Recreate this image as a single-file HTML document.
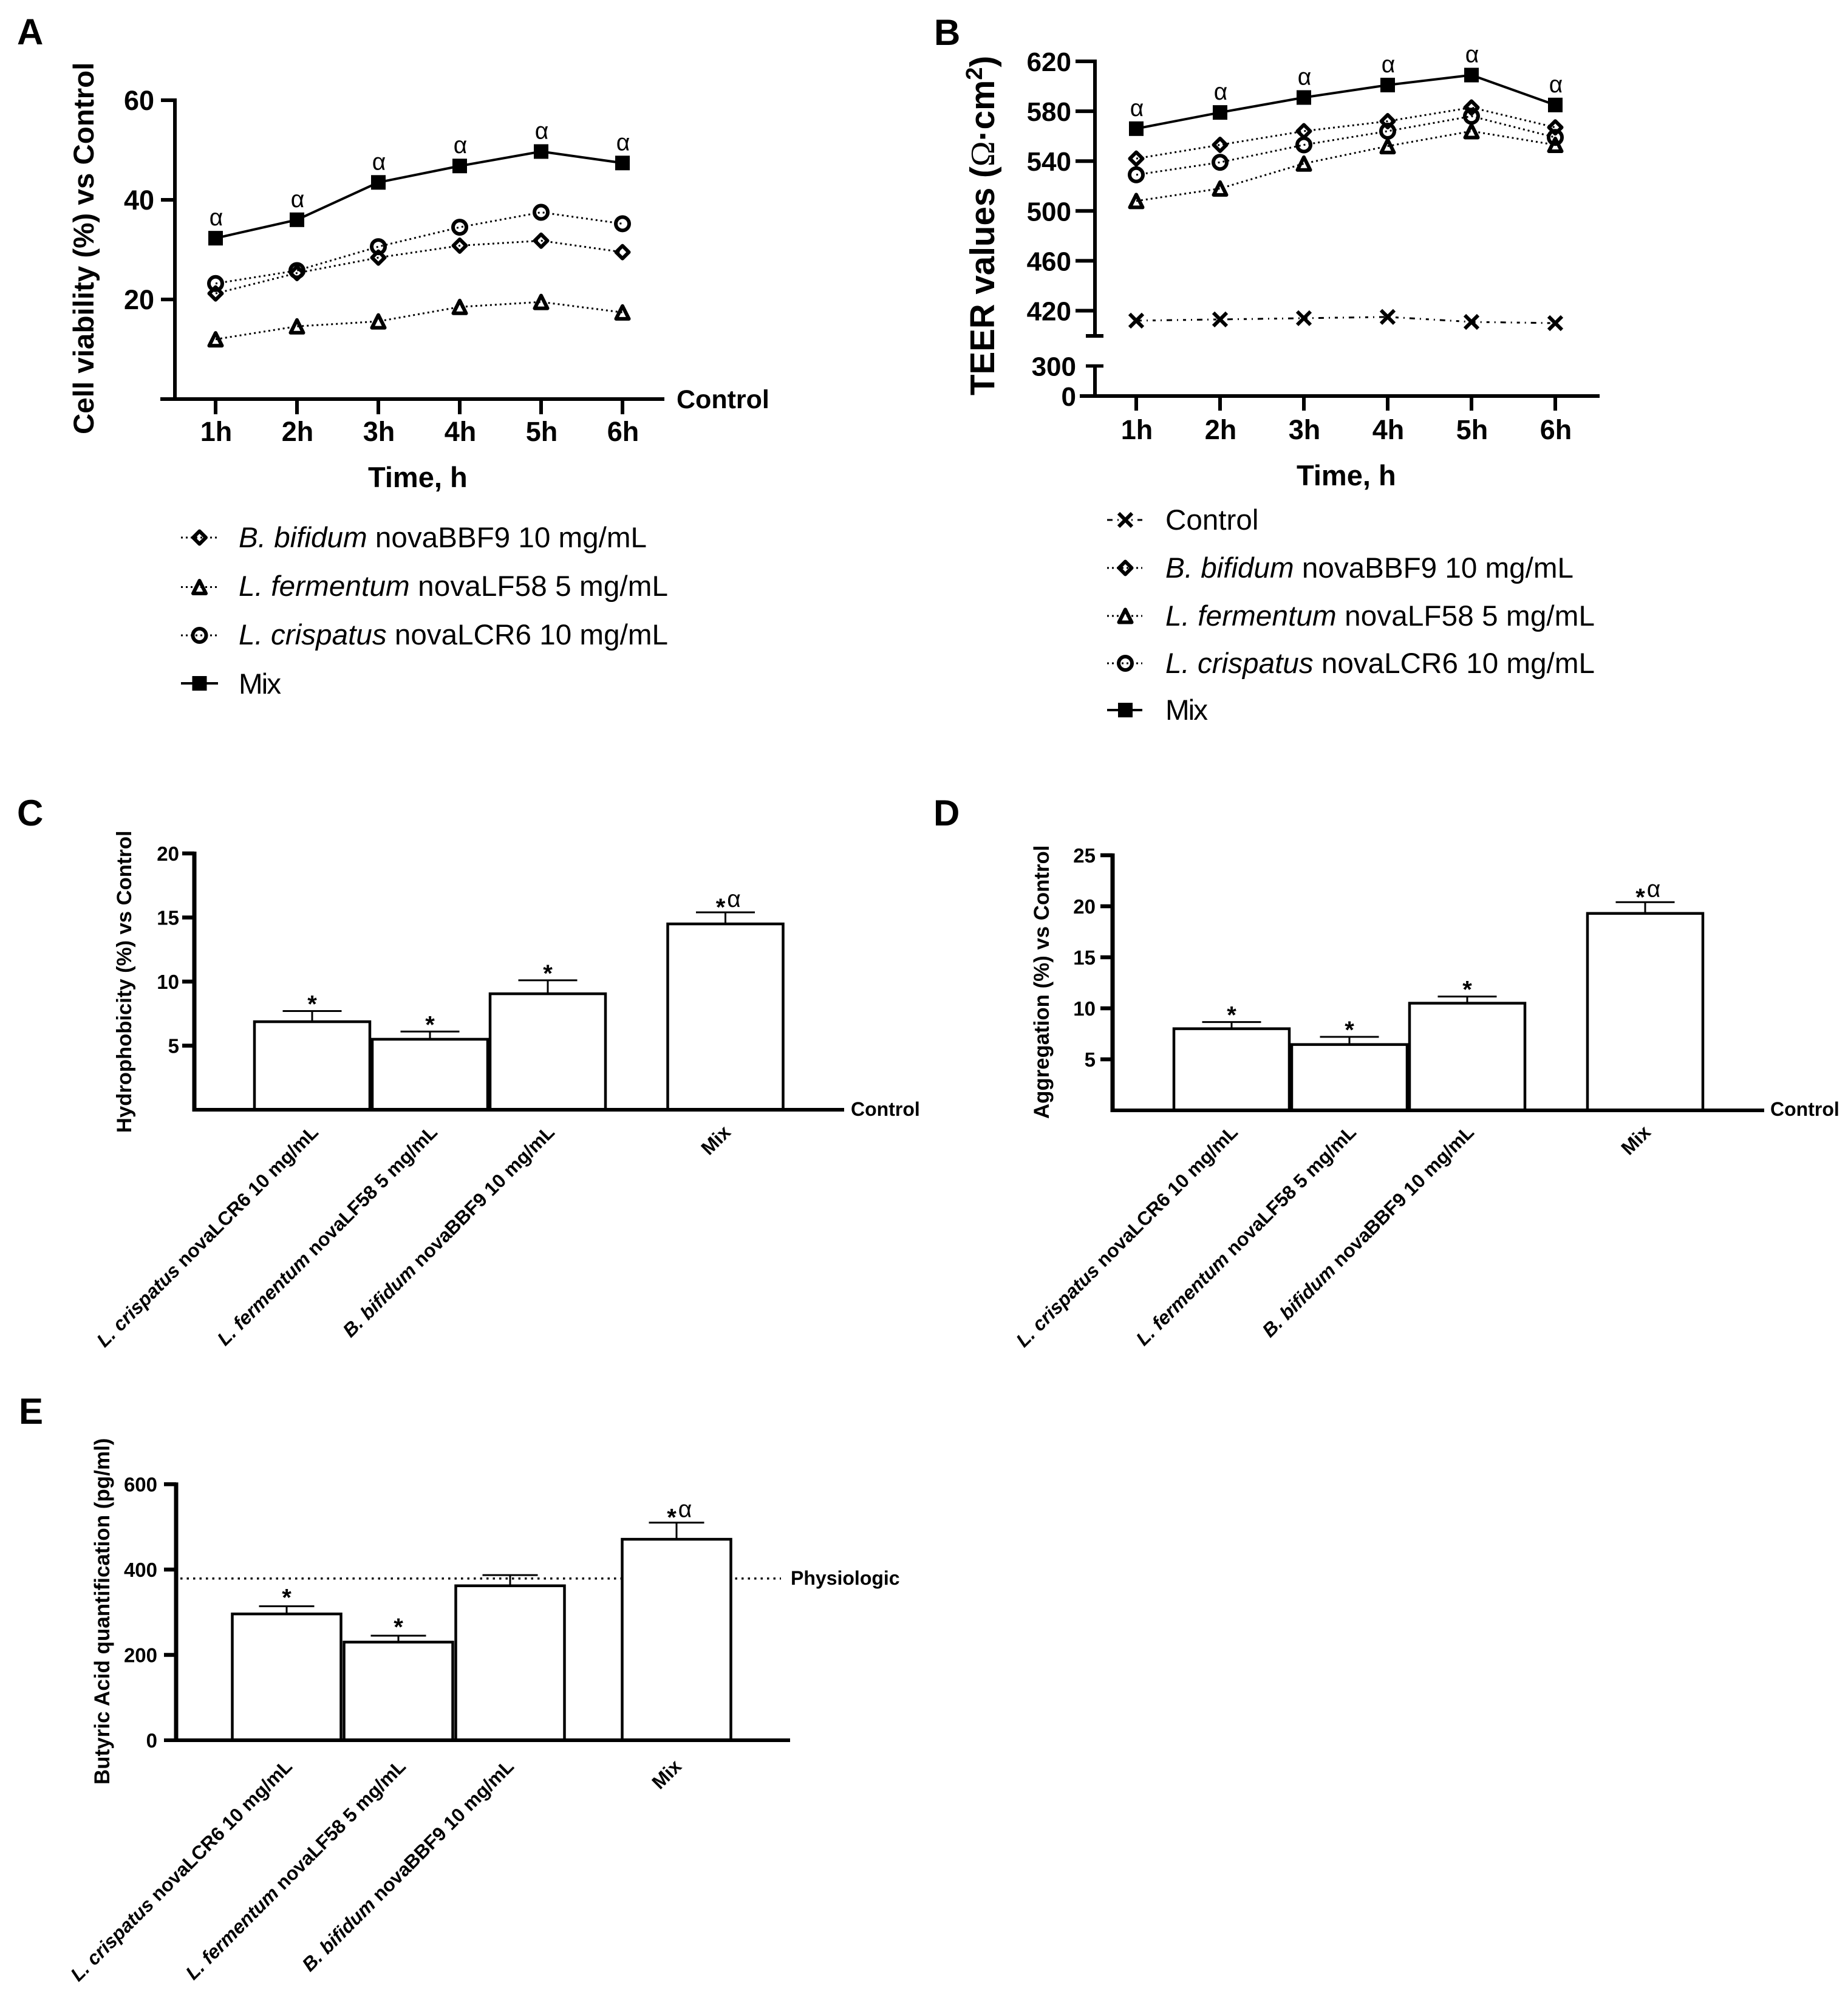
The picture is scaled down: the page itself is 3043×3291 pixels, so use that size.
<!DOCTYPE html>
<html lang="en">
<head>
<meta charset="utf-8">
<title>Probiotic strains: viability, TEER, hydrophobicity, aggregation, butyric acid</title>
<style>
  html,body{margin:0;padding:0;background:#fff;}
  svg{display:block;}
  text{font-family:"Liberation Sans",sans-serif;fill:#000;}
  .b{font-weight:700;}
  .letter{font-weight:700;font-size:60px;}
  .leg{font-size:47.6px;}
  .t47{font-weight:700;font-size:47px;}
  .i{font-style:italic;}
</style>
</head>
<body>
<svg id="fig" xmlns="http://www.w3.org/2000/svg" width="3043" height="3291" viewBox="0 0 3043 3291">
  <rect x="0" y="0" width="3043" height="3291" fill="#fff"/>

  <text class="letter" x="28" y="73">A</text>
  <text class="letter" x="1538" y="74">B</text>
  <text class="letter" x="28" y="1359">C</text>
  <text class="letter" x="1537" y="1359">D</text>
  <text class="letter" x="31" y="2344">E</text>

  <text class="b" font-size="47.5" transform="translate(154,715) rotate(-90)">Cell viability (%) vs Control</text>
  <text class="t47" x="606" y="802">Time, h</text>
  <text class="b" font-size="43" x="1114" y="672">Control</text>

  <text class="leg" x="393" y="901" textLength="672"><tspan class="i">B. bifidum</tspan> novaBBF9 10 mg/mL</text>
  <text class="leg" x="393" y="981" textLength="707"><tspan class="i">L. fermentum</tspan> novaLF58 5 mg/mL</text>
  <text class="leg" x="393" y="1061" textLength="707"><tspan class="i">L. crispatus</tspan> novaLCR6 10 mg/mL</text>
  <text class="leg" x="393" y="1142" textLength="70">Mix</text>

  <text class="b" font-size="56.5" transform="translate(1637,651) rotate(-90)">TEER values (<tspan font-family="Liberation Serif,serif" font-weight="400">Ω</tspan>·cm<tspan font-size="38" dy="-20">2</tspan><tspan dy="20">)</tspan></text>
  <text class="t47" x="2135" y="799">Time, h</text>

  <text class="leg" x="1919" y="872">Control</text>
  <text class="leg" x="1919" y="951" textLength="672"><tspan class="i">B. bifidum</tspan> novaBBF9 10 mg/mL</text>
  <text class="leg" x="1919" y="1030" textLength="707"><tspan class="i">L. fermentum</tspan> novaLF58 5 mg/mL</text>
  <text class="leg" x="1919" y="1108" textLength="707"><tspan class="i">L. crispatus</tspan> novaLCR6 10 mg/mL</text>
  <text class="leg" x="1919" y="1185" textLength="70">Mix</text>

  <text class="b" font-size="34.6" transform="translate(216,1865) rotate(-90)">Hydrophobicity (%) vs Control</text>
  <text class="b" font-size="32" x="1401" y="1837">Control</text>

  <text class="b" font-size="34.8" transform="translate(1727,1842) rotate(-90)">Aggregation (%) vs Control</text>
  <text class="b" font-size="32" x="2915" y="1837">Control</text>

  <text class="b" font-size="35" transform="translate(180,2938) rotate(-90)">Butyric Acid quantification (pg/ml)</text>
  <text class="b" font-size="32" x="1302" y="2609">Physiologic</text>
</svg>

<script>
/* ---------- data ---------- */
const hours = ['1h','2h','3h','4h','5h','6h'];

const aTicks = [20,40,60];
const aBbf9  = [21.2,25.3,28.4,30.8,31.8,29.5];
const aLf58  = [12.0,14.6,15.6,18.5,19.5,17.4];
const aLcr6  = [23.2,25.8,30.6,34.5,37.5,35.2];
const aMix   = [32.3,36.0,43.5,46.8,49.7,47.4];

const bUpperTicks = [420,460,500,540,580,620];
const bLowerTicks = [0,300];
const bControl = [412,413,414,415,411,410];
const bBbf9 = [542,553,564,572,583,567];
const bLf58 = [508,518,538,552,564,553];
const bLcr6 = [529,539,553,564,576,559];
const bMix  = [566,579,591,601,609,585];

const barSpecies = ['L. crispatus','L. fermentum','B. bifidum',''];
const barStrains = [' novaLCR6 10 mg/mL',' novaLF58 5 mg/mL',' novaBBF9 10 mg/mL','Mix'];

const cTicks  = [5,10,15,20];
const cValues = [6.87,5.5,9.05,14.5];
const cErrTop = [7.7,6.1,10.1,15.4];
const cMarks  = ['*','*','*','*α'];

const dTicks  = [5,10,15,20,25];
const dValues = [8.0,6.45,10.5,19.3];
const dErrTop = [8.65,7.2,11.15,20.4];
const dMarks  = ['*','*','*','*α'];

const eTicks  = [0,200,400,600];
const eValues = [296,230,362,471];
const eErrTop = [314,245,387,510];
const eMarks  = ['*','*','','*α'];
const ePhysiologic = [379];

/* ---------- helpers ---------- */
const NS = 'http://www.w3.org/2000/svg';
const fig = document.getElementById('fig');

function mk(tag, attrs, name, parent) {
  const el = document.createElementNS(NS, tag);
  for (const k in attrs) el.setAttribute(k, attrs[k]);
  
  
  (parent || fig).appendChild(el);
  return el;
}
function line(x1, y1, x2, y2, w, name, dash) {
  const a = {x1: x1, y1: y1, x2: x2, y2: y2, stroke: '#000', 'stroke-width': w};
  if (dash) a['stroke-dasharray'] = dash;
  return mk('line', a, name);
}
function label(x, y, str, size, anchor, name, extra) {
  const a = Object.assign({x: x, y: y, 'font-size': size, 'text-anchor': anchor, 'font-weight': 700}, extra || {});
  const t = mk('text', a, name);
  t.textContent = str;
  return t;
}
function linear(d0, d1, r0, r1) {
  return function (v) { return r0 + (v - d0) * (r1 - r0) / (d1 - d0); };
}
function marker(type, x, y, name) {
  const g = mk('g', {transform: 'translate(' + x + ',' + y + ')', fill: 'none', stroke: '#000', 'stroke-width': 6, 'stroke-linejoin': 'round'}, name);
  const inner = name + '-shape';
  if (type === 'square') mk('rect', {x: -12, y: -12, width: 24, height: 24, fill: '#000', stroke: 'none'}, inner, g);
  if (type === 'circle') mk('circle', {r: 11}, inner, g);
  if (type === 'diamond') mk('path', {d: 'M0-10.5L10.5 0L0 10.5L-10.5 0Z'}, inner, g);
  if (type === 'triangle') mk('path', {d: 'M0-10.5L10.5 10.5L-10.5 10.5Z'}, inner, g);
  if (type === 'cross') mk('path', {d: 'M-11-11L11 11M11-11L-11 11'}, inner, g);
}
const DOT = '3 5';
const DASHDOT = '9 8 2 8 5 8 2 8';

function series(name, type, values, xf, yf, dash, w) {
  const pts = values.map(function (v, i) { return xf(i) + ',' + yf(v); }).join(' ');
  const a = {points: pts, fill: 'none', stroke: '#000', 'stroke-width': w};
  if (dash) a['stroke-dasharray'] = dash;
  mk('polyline', a, name + '-line');
  values.forEach(function (v, i) { marker(type, xf(i), yf(v), name + '-point-' + hours[i]); });
}
function legendKey(name, type, x0, x1, xc, y, dash, w) {
  line(x0, y, x1, y, w, name + '-line', dash);
  marker(type, xc, y, name + '-marker');
}
function alphas(prefix, values, xf, yf) {
  values.forEach(function (v, i) {
    label(xf(i) + 1, yf(v) - 21, 'α', 39, 'middle', prefix + '-alpha-' + hours[i], {'font-family': 'Liberation Serif, serif', 'font-weight': 400});
  });
}
function xAxisLabels(prefix, xf, tickTop, tickBottom, baseline, size) {
  hours.forEach(function (h, i) {
    line(xf(i), tickTop, xf(i), tickBottom, 6, prefix + '-x-tick-' + h);
    label(xf(i) + 1, baseline, h, size, 'middle', prefix + '-x-label-' + h);
  });
}

/* ---------- panel A ---------- */
(function () {
  const y = linear(0, 60, 657, 165);
  const x = linear(0, 5, 355, 1025);
  line(288, 162, 288, 660, 6, 'a-y-axis');
  line(264, 657, 1094, 657, 6, 'a-x-axis');
  aTicks.forEach(function (t) {
    line(265, y(t), 288, y(t), 6, 'a-y-tick-' + t);
    label(254, y(t) + 16, String(t), 45, 'end', 'a-y-label-' + t);
  });
  xAxisLabels('a', x, 657, 682, 726, 45);
  series('a-bbf9', 'diamond', aBbf9, x, y, DOT, 3);
  series('a-lf58', 'triangle', aLf58, x, y, DOT, 3);
  series('a-lcr6', 'circle', aLcr6, x, y, DOT, 3);
  series('a-mix', 'square', aMix, x, y, null, 4);
  alphas('a', aMix, x, y);
  legendKey('a-legend-bbf9', 'diamond', 298, 359, 328.5, 885, DOT, 3);
  legendKey('a-legend-lf58', 'triangle', 298, 359, 328.5, 966.5, DOT, 3);
  legendKey('a-legend-lcr6', 'circle', 298, 359, 328.5, 1046, DOT, 3);
  legendKey('a-legend-mix', 'square', 298, 359, 328.5, 1125, null, 4);
})();

/* ---------- panel B ---------- */
(function () {
  const y = linear(420, 620, 511.5, 101);
  const yLow = linear(0, 300, 652, 602.5);
  const x = linear(0, 5, 1871, 2561);
  line(1803, 98, 1803, 556, 6, 'b-y-axis-upper');
  line(1803, 600, 1803, 655, 6, 'b-y-axis-lower');
  line(1778, 652, 2634, 652, 6, 'b-x-axis');
  line(1788, 553, 1817, 553, 6, 'b-axis-break-top');
  bUpperTicks.forEach(function (t) {
    line(1771, y(t), 1803, y(t), 6, 'b-y-tick-' + t);
    label(1764, y(t) + 16, String(t), 44, 'end', 'b-y-label-' + t);
  });
  bLowerTicks.forEach(function (t) {
    if (t > 0) line(1788, yLow(t), 1817, yLow(t), 5.5, 'b-y-tick-' + t);
    label(1772, yLow(t) + 16, String(t), 44, 'end', 'b-y-label-' + t);
  });
  xAxisLabels('b', x, 652, 676, 723, 45);
  series('b-control', 'cross', bControl, x, y, DASHDOT, 3);
  series('b-bbf9', 'diamond', bBbf9, x, y, DOT, 3);
  series('b-lf58', 'triangle', bLf58, x, y, DOT, 3);
  series('b-lcr6', 'circle', bLcr6, x, y, DOT, 3);
  series('b-mix', 'square', bMix, x, y, null, 4);
  alphas('b', bMix, x, y);
  legendKey('b-legend-control', 'cross', 1823, 1881, 1853, 856, DASHDOT, 3);
  legendKey('b-legend-bbf9', 'diamond', 1823, 1881, 1853, 935, DOT, 3);
  legendKey('b-legend-lf58', 'triangle', 1823, 1881, 1853, 1014, DOT, 3);
  legendKey('b-legend-lcr6', 'circle', 1823, 1881, 1853, 1092, DOT, 3);
  legendKey('b-legend-mix', 'square', 1823, 1881, 1853, 1169, null, 4);
})();

/* ---------- bar panels ---------- */
function barPanel(p, ticks, values, errTop, marks) {
  const y = linear(0, p.yMax, p.y0, p.yTop);
  const bx = function (i) { return i < 3 ? p.first + p.step * i : p.fourth; };

  if (p.ref !== undefined) {
    line(p.refX0, y(p.ref), p.refX1, y(p.ref), 3.5, p.id + '-physiologic-line', '3.5 7');
  }
  values.forEach(function (v, i) {
    const n = p.id + '-bar-' + (i + 1);
    mk('rect', {x: bx(i) - p.bw / 2, y: y(v), width: p.bw, height: y(0) - y(v), fill: '#fff', stroke: '#000', 'stroke-width': 4.5}, n);
    line(bx(i), y(v), bx(i), y(errTop[i]), 3, n + '-error-stem');
    line(bx(i) - p.cap / 2, y(errTop[i]), bx(i) + p.cap / 2, y(errTop[i]), 3, n + '-error-cap');
    const m = marks[i];
    if (m) {
      const star = m.charAt(0);
      const hasAlpha = m.length > 1;
      label(bx(i) - (hasAlpha ? 8 : 0), y(errTop[i]) + (hasAlpha ? 5 : p.starDy), star, 40, 'middle', n + '-star');
      if (hasAlpha) {
        label(bx(i) + 14, y(errTop[i]) - 9, 'α', 39, 'middle', n + '-alpha', {'font-family': 'Liberation Serif, serif', 'font-weight': 400});
      }
    }
    const g = mk('g', {transform: 'translate(' + p.labelX(i) + ',' + p.labelY + ') rotate(-45)'}, n + '-category-group');
    const t = mk('text', {'text-anchor': 'end', 'font-size': 31.7, 'font-weight': 700}, n + '-category-label', g);
    const sp = mk('tspan', {'font-style': 'italic'}, n + '-category-species', t);
    sp.textContent = barSpecies[i];
    const st = mk('tspan', {}, n + '-category-strain', t);
    st.textContent = barStrains[i];
  });
  line(p.axisX, p.yTop - 3, p.axisX, y(0) + 3, 7, p.id + '-y-axis');
  line(p.xStart, y(0), p.xEnd, y(0), 6, p.id + '-x-axis');
  ticks.forEach(function (t) {
    if (t > 0) line(p.tickX, y(t), p.axisX, y(t), 6.5, p.id + '-y-tick-' + t);
    label(p.tickLabelX, y(t) + 12, String(t), 33, 'end', p.id + '-y-label-' + t);
  });
}

const cLabelEnds = [526, 722, 915, 1205];
const dLabelEnds = [2040, 2235, 2429, 2720];
const eLabelEnds = [483, 670, 848, 1124];

barPanel({id: 'c', yMax: 20, y0: 1827, yTop: 1405, axisX: 320, xStart: 316.5, xEnd: 1390, tickX: 300, tickLabelX: 295, starDy: 2,
  first: 514, step: 194, fourth: 1194.5, bw: 190, cap: 97,
  labelX: function (i) { return cLabelEnds[i]; }, labelY: 1866}, cTicks, cValues, cErrTop, cMarks);

barPanel({id: 'd', yMax: 25, y0: 1828, yTop: 1408, axisX: 1832, xStart: 1828.5, xEnd: 2905, tickX: 1812, tickLabelX: 1804, starDy: 2,
  first: 2028, step: 194, fourth: 2709, bw: 190, cap: 97,
  labelX: function (i) { return dLabelEnds[i]; }, labelY: 1866}, dTicks, dValues, dErrTop, dMarks);

barPanel({id: 'e', yMax: 600, y0: 2865, yTop: 2443.5, axisX: 290, xStart: 270, xEnd: 1301, tickX: 270, tickLabelX: 259, starDy: -1,
  first: 472, step: 184, fourth: 1114, bw: 179, cap: 91,
  ref: ePhysiologic[0], refX0: 297, refX1: 1286,
  labelX: function (i) { return eLabelEnds[i]; }, labelY: 2910}, eTicks, eValues, eErrTop, eMarks);
</script>
</body>
</html>
